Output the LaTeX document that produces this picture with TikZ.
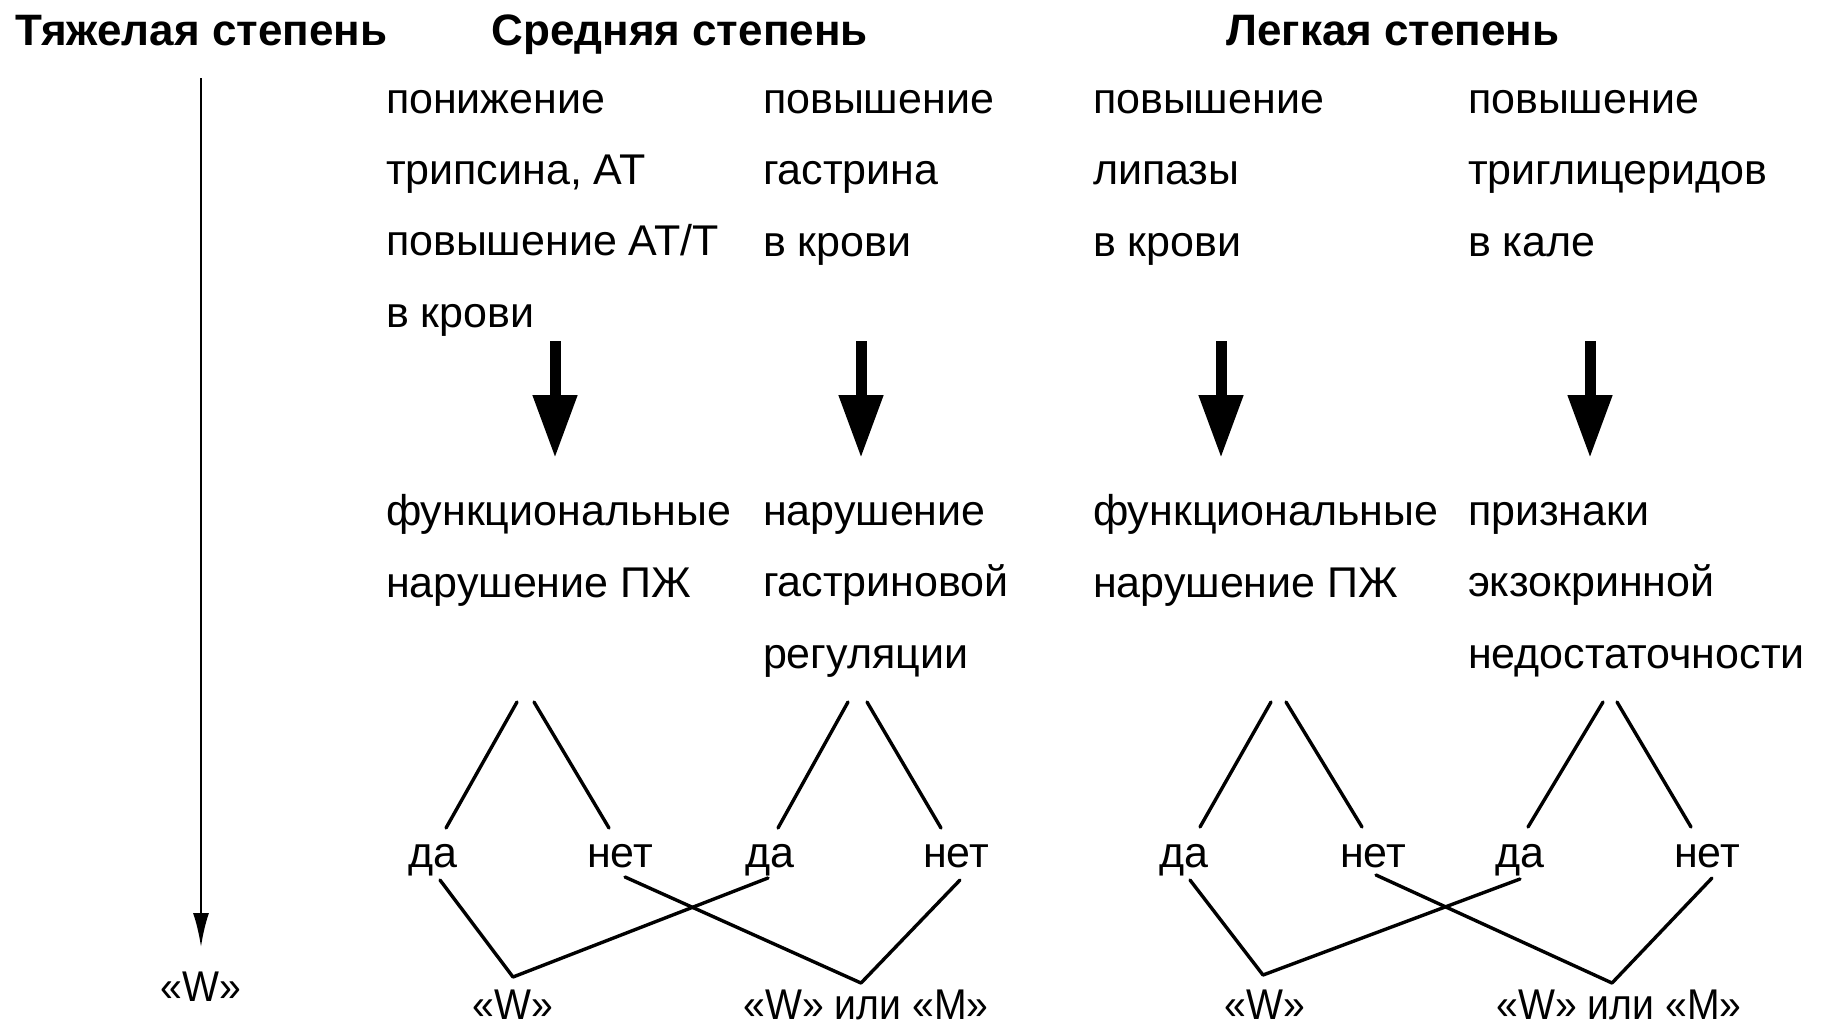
\documentclass[tikz,border=0pt]{standalone}
\usepackage{fontspec}
\setmainfont{Liberation Sans}
\usetikzlibrary{arrows.meta}
\begin{document}
\begin{tikzpicture}[x=0.5pt,y=-0.5pt,
  txt/.style={font=\fontsize{21.5}{35.65}\selectfont, inner sep=0pt, outer sep=0pt, align=left, anchor=base west},
  head/.style={font=\fontsize{22}{26}\selectfont\bfseries, inner sep=0pt, anchor=base west},
  ans/.style={font=\fontsize{21.5}{26}\selectfont, inner sep=0pt, anchor=base},
  res/.style={font=\fontsize{21.5}{26}\selectfont\addfontfeatures{FakeStretch=0.91}, inner sep=0pt, anchor=base},
  link/.style={line width=1.7pt, line cap=round, line join=round},
  bigarrow/.style={line width=5.5pt, -{Triangle[length=31.5pt,width=21pt]}},
  leftarrow/.style={line width=1.2pt, -{Latex[length=17pt,width=8pt]}}]
\useasboundingbox (0,0) rectangle (1824,1029);
\fill[white] (0,0) rectangle (1824,1029);

% headings
\node[head] (h1) at (15,45) {Тяжелая степень};
\node[head] (h2) at (491,45) {Средняя степень};
\node[head] (h3) at (1226,45) {Легкая степень};

% top texts (anchored at the baseline of the last line)
\node[txt] (t1) at (386,327) {понижение\\трипсина, АТ\\повышение АТ/Т\\в крови};
\node[txt] (t2) at (763,256) {повышение\\гастрина\\в крови};
\node[txt] (t3) at (1093,256) {повышение\\липазы\\в крови};
\node[txt] (t4) at (1468,256) {повышение\\триглицеридов\\в кале};

% middle texts
\node[txt] (m1) at (386,597) {функциональные\\нарушение ПЖ};
\node[txt] (m2) at (763,668) {нарушение\\гастриновой\\регуляции};
\node[txt] (m3) at (1093,597) {функциональные\\нарушение ПЖ};
\node[txt] (m4) at (1468,668) {признаки\\экзокринной\\недостаточности};

% big arrows
\coordinate (a1s) at (555,341); \coordinate (a1e) at (555,458);
\coordinate (a2s) at (861,341); \coordinate (a2e) at (861,458);
\coordinate (a3s) at (1221,341); \coordinate (a3e) at (1221,458);
\coordinate (a4s) at (1590,341); \coordinate (a4e) at (1590,458);
\draw[bigarrow] (a1s) -- (a1e);
\draw[bigarrow] (a2s) -- (a2e);
\draw[bigarrow] (a3s) -- (a3e);
\draw[bigarrow] (a4s) -- (a4e);

% left arrow
\coordinate (ls) at (201,78);
\node[res] (w0) at (201,1001) {«W»};
\coordinate (le) at (201,947);
\draw[leftarrow] (ls) -- (le);

% answers
\node[ans] (d1) at (433,867) {да};
\node[ans] (n1) at (620,867) {нет};
\node[ans] (d2) at (770,867) {да};
\node[ans] (n2) at (956,867) {нет};
\node[ans] (d3) at (1184,867) {да};
\node[ans] (n3) at (1373,867) {нет};
\node[ans] (d4) at (1520,867) {да};
\node[ans] (n4) at (1707,867) {нет};

% results
\node[res] (r1) at (513,1019) {«W»};
\node[res] (r2) at (866,1019) {«W» или «M»};
\node[res] (r3) at (1265,1019) {«W»};
\node[res] (r4) at (1619,1019) {«W» или «M»};

% branch coordinates
\coordinate (b1l) at (517,702); \coordinate (e1l) at (446,828);
\coordinate (b1r) at (534,702); \coordinate (e1r) at (609,828);
\coordinate (b2l) at (848,702); \coordinate (e2l) at (778,828);
\coordinate (b2r) at (867,702); \coordinate (e2r) at (941,828);
\coordinate (b3l) at (1271,702); \coordinate (e3l) at (1200,827);
\coordinate (b3r) at (1286,702); \coordinate (e3r) at (1362,827);
\coordinate (b4l) at (1603,702); \coordinate (e4l) at (1528,827);
\coordinate (b4r) at (1617,702); \coordinate (e4r) at (1691,827);
\draw[link] (b1l) -- (e1l); \draw[link] (b1r) -- (e1r);
\draw[link] (b2l) -- (e2l); \draw[link] (b2r) -- (e2r);
\draw[link] (b3l) -- (e3l); \draw[link] (b3r) -- (e3r);
\draw[link] (b4l) -- (e4l); \draw[link] (b4r) -- (e4r);

% result V's
\coordinate (s1d) at (440,880); \coordinate (v1) at (513,977); \coordinate (s2d) at (768,878);
\coordinate (s1n) at (625,877); \coordinate (v2) at (861,983); \coordinate (s2n) at (960,880);
\coordinate (s3d) at (1190,880); \coordinate (v3) at (1263,975); \coordinate (s4d) at (1520,879);
\coordinate (s3n) at (1376,875); \coordinate (v4) at (1612,983); \coordinate (s4n) at (1712,878);
\draw[link] (s1d) -- (v1) -- (s2d);
\draw[link] (s1n) -- (v2) -- (s2n);
\draw[link] (s3d) -- (v3) -- (s4d);
\draw[link] (s3n) -- (v4) -- (s4n);
\end{tikzpicture}
\end{document}
